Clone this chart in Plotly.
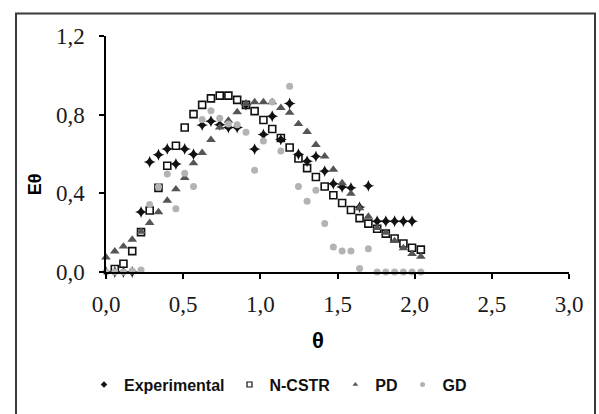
import plotly.graph_objects as go

theta = [0.000, 0.057, 0.113, 0.170, 0.227, 0.283, 0.340, 0.397, 0.453, 0.510,
         0.567, 0.623, 0.680, 0.737, 0.793, 0.850, 0.907, 0.963, 1.020, 1.077,
         1.133, 1.190, 1.247, 1.303, 1.360, 1.417, 1.473, 1.530, 1.587, 1.643,
         1.700, 1.757, 1.813, 1.870, 1.927, 1.983, 2.040]

experimental = [0.0, 0.0, 0.0, 0.0, 0.305, 0.559, 0.596, 0.626, 0.549, 0.626,
                0.599, 0.747, 0.767, 0.749, 0.735, 0.735, 0.85, 0.625, 0.699, 0.792,
                0.674, 0.857, 0.599, 0.563, 0.588, 0.513, 0.449, 0.432, 0.428, 0.33,
                0.438, 0.258, 0.258, 0.258, 0.258, 0.258, None]

n_cstr = [None, 0.015, 0.042, 0.106, 0.203, 0.313, 0.428, 0.54, 0.642, 0.735,
          0.803, 0.85, 0.883, 0.897, 0.897, 0.875, 0.85, 0.818, 0.773, 0.727,
          0.681, 0.633, 0.577, 0.528, 0.483, 0.435, 0.39, 0.351, 0.315, 0.274,
          0.246, 0.22, 0.195, 0.17, 0.145, 0.123, 0.114]

pd_model = [0.075, 0.105, 0.13, 0.165, 0.205, 0.25, 0.305, 0.363, 0.421, 0.479,
            0.553, 0.606, 0.672, 0.735, 0.77, 0.813, 0.855, 0.864, 0.864, 0.864,
            0.835, 0.81, 0.753, 0.713, 0.647, 0.588, 0.521, 0.452, 0.398, 0.325,
            0.282, 0.224, 0.2, 0.158, 0.122, 0.092, 0.078]

gd_model = [0.0, 0.0, 0.0, 0.005, 0.01, 0.343, 0.433, 0.498, 0.321, 0.502,
            0.435, 0.776, 0.82, 0.782, 0.752, 0.749, 0.71, 0.518, 0.666, 0.864,
            0.615, 0.945, 0.435, 0.36, 0.416, 0.246, 0.127, 0.107, 0.107, 0.018,
            0.118, 0.0, 0.0, 0.0, 0.0, 0.0, 0.0]

series_names = ["Experimental", "N-CSTR", "PD", "GD"]
x_ticks = [0.0, 0.5, 1.0, 1.5, 2.0, 2.5, 3.0]
y_ticks = [0.0, 0.4, 0.8, 1.2]

styles = [
    dict(symbol="star-diamond", size=8.5, color="#111111"),
    dict(symbol="square-open", size=7, color="#111111", line=dict(width=1.6, color="#111111")),
    dict(symbol="triangle-up", size=8.5, color="#555555"),
    dict(symbol="circle", size=7, color="#b3b3b3"),
]
legend_styles = [
    dict(symbol="diamond", size=5, color="#111111"),
    dict(symbol="square-open", size=5, color="#111111", line=dict(width=1.2, color="#111111")),
    dict(symbol="triangle-up", size=5, color="#555555"),
    dict(symbol="circle", size=5, color="#b3b3b3"),
]

fig = go.Figure()
for name, ys, st in zip(series_names, [experimental, n_cstr, pd_model, gd_model], styles):
    fig.add_trace(go.Scatter(x=theta, y=ys, mode="markers", name=name, marker=st,
                             cliponaxis=False, showlegend=False, legendgroup=name))
for name, st in zip(series_names, legend_styles):
    fig.add_trace(go.Scatter(x=[None], y=[None], mode="markers", name=name, marker=st,
                             showlegend=True, legendgroup=name))

W, H = 599, 414
L, R, T, B = 106, 30, 36, 137
pw = W - L - R
ph = H - T - B

def px(xp):
    return (xp - L) / pw

def py(yp):
    return (H - B - yp) / ph

tick_font = dict(family="Liberation Serif, Times New Roman, serif", size=23, color="#1a1a1a")

fig.update_layout(
    width=W, height=H,
    margin=dict(l=L, r=R, t=T, b=B),
    paper_bgcolor="white", plot_bgcolor="white",
    separators=",.",
    showlegend=True,
    legend=dict(orientation="h", x=px(84), y=py(392), xanchor="left", yanchor="middle",
                font=dict(family="Liberation Sans, Arial, sans-serif",
                          size=16, color="#111111", weight="bold"),
                itemsizing="trace", itemwidth=30, bgcolor="rgba(0,0,0,0)", tracegroupgap=0),
    xaxis=dict(range=[0, 3], tickvals=x_ticks, tickformat=".1f", showgrid=False,
               zeroline=False, showline=True, linecolor="black", linewidth=1.5,
               ticks="outside", ticklen=5, tickwidth=1.5, tickcolor="black",
               tickfont=tick_font, ticklabelstandoff=6),
    yaxis=dict(range=[0, 1.2], tickvals=y_ticks, tickformat=".1f", showgrid=False,
               zeroline=False, showline=True, linecolor="black", linewidth=1.5,
               ticks="outside", ticklen=5, tickwidth=1.5, tickcolor="black",
               tickfont=tick_font, ticklabelstandoff=10),
    shapes=[dict(type="rect", xref="paper", yref="paper",
                 x0=px(16), x1=px(595), y0=py(430), y1=py(13),
                 line=dict(color="#3a3a3a", width=2), fillcolor="rgba(0,0,0,0)",
                 layer="below")],
    annotations=[
        dict(text="Eθ", xref="paper", yref="paper", x=px(34.5), y=py(188),
             xanchor="center", yanchor="middle",
             showarrow=False, textangle=-90,
             font=dict(family="Liberation Sans, Arial, sans-serif", size=18,
                       color="black", weight="bold")),
        dict(text="θ", xref="paper", yref="paper", x=px(318), y=py(347),
             xanchor="center", yanchor="middle",
             showarrow=False,
             font=dict(family="Liberation Sans, Arial, sans-serif", size=22,
                       color="black", weight="bold")),
    ],
)

fig.write_html("out.html")
